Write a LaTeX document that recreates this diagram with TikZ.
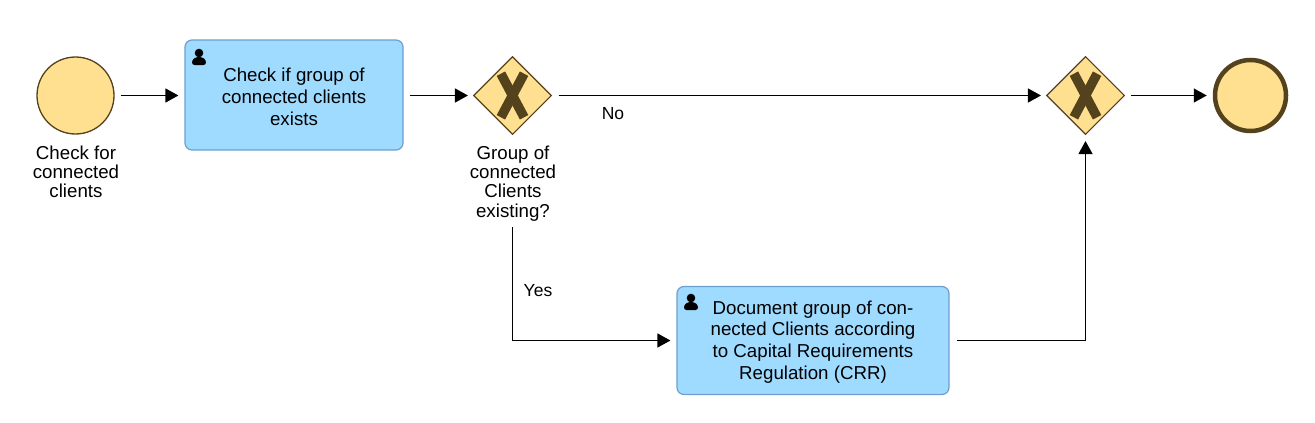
\documentclass[tikz,border=0pt]{standalone}
\usepackage{fontspec}
\setmainfont{Liberation Sans}
\usetikzlibrary{arrows.meta,shapes.geometric}
\definecolor{evfill}{HTML}{FFDF90}
\definecolor{evline}{HTML}{54421C}
\definecolor{taskfill}{HTML}{9FDBFF}
\definecolor{taskline}{HTML}{6F9FCF}
\tikzset{
  x=1pt,y=-1pt,
  txt/.style={font=\fontsize{18.7}{22}\selectfont,align=center,text=black},
  lab/.style={font=\fontsize{18.7}{19.2}\selectfont,align=center,inner sep=0pt,text=black},
  edgelab/.style={font=\fontsize{17.5}{20}\selectfont,inner sep=0pt,text=black},
  startev/.style={circle,draw=evline,fill=evfill,line width=1.3pt,inner sep=0pt,minimum size=77pt},
  endev/.style={circle,draw=evline,fill=evfill,line width=4.5pt,inner sep=0pt,minimum size=71pt},
  task/.style={txt,rectangle,rounded corners=7pt,draw=taskline,fill=taskfill,line width=1.2pt,inner sep=0pt},
  gate/.style={diamond,draw=evline,fill=evfill,line width=1.1pt,inner sep=0pt,minimum width=78pt,minimum height=78pt,aspect=1},
  flow/.style={draw=black,line width=1.3pt,-{Triangle[length=13pt,width=14pt]}},
  xmark/.style={draw=evline,line width=9.5pt},
}
\newcommand{\personicon}[2]{%
  \fill[black] (#1,#2-4) circle (4.3pt);
  \fill[black,rounded corners=2.5pt] (#1-7,#2+8) -- (#1-7,#2+3) -- (#1-3,#2) -- (#1+3,#2) -- (#1+7,#2+3) -- (#1+7,#2+8) -- cycle;
}
\newcommand{\gatex}[2]{%
  \draw[xmark] (#1-11.6,#2-21.8) -- (#1+11.6,#2+21.8);
  \draw[xmark] (#1+11.6,#2-21.8) -- (#1-11.6,#2+21.8);
}
\begin{document}
\begin{tikzpicture}
\useasboundingbox[fill=white] (0,0) rectangle (1315,423);
\node[startev] (start) at (75.5,95.5) {};
\node[lab] (startlab) at (76,172) {Check for\\connected\\clients};
\node[task,minimum width=218pt,minimum height=110pt] (t1) at (294,95) {\parbox{200pt}{\vspace*{4pt}\centering Check if group of\\connected clients\\exists}};
\node[gate] (g1) at (512.5,95.5) {};
\gatex{512.5}{95.5}
\node[lab] (g1lab) at (513,183.5) {Group of\\connected\\Clients\\existing?};
\node[gate] (g2) at (1085.5,95.5) {};
\gatex{1085.5}{95.5}
\node[endev] (end) at (1250.5,95.5) {};
\node[task,minimum width=272pt,minimum height=108pt] (t2) at (813,340.5) {\parbox{260pt}{\vspace*{3pt}\centering\baselineskip=21.7pt Document group of con-\\nected Clients according\\to Capital Requirements\\Regulation (CRR)}};
\personicon{199}{57}
\personicon{691}{302}
\draw[flow,shorten <=6pt,shorten >=6pt] (start.east) -- (t1.west |- start.east);
\draw[flow,shorten <=6pt,shorten >=5pt] (t1.east |- g1.west) -- (g1.west);
\draw[flow,shorten <=6.5pt,shorten >=5pt] (g1.east) -- (g2.west);
\draw[flow,shorten <=6pt,shorten >=6pt] (g2.east) -- (end.west);
\draw[flow,shorten <=6pt,shorten >=6pt] (g1lab.south -| g1.south) |- (t2.west);
\draw[flow,shorten <=7pt,shorten >=6pt] (t2.east) -| (g2.south);
\node[edgelab] (no) at (613,114) {No};
\node[edgelab] (yes) at (538,291) {Yes};
\end{tikzpicture}
\end{document}
